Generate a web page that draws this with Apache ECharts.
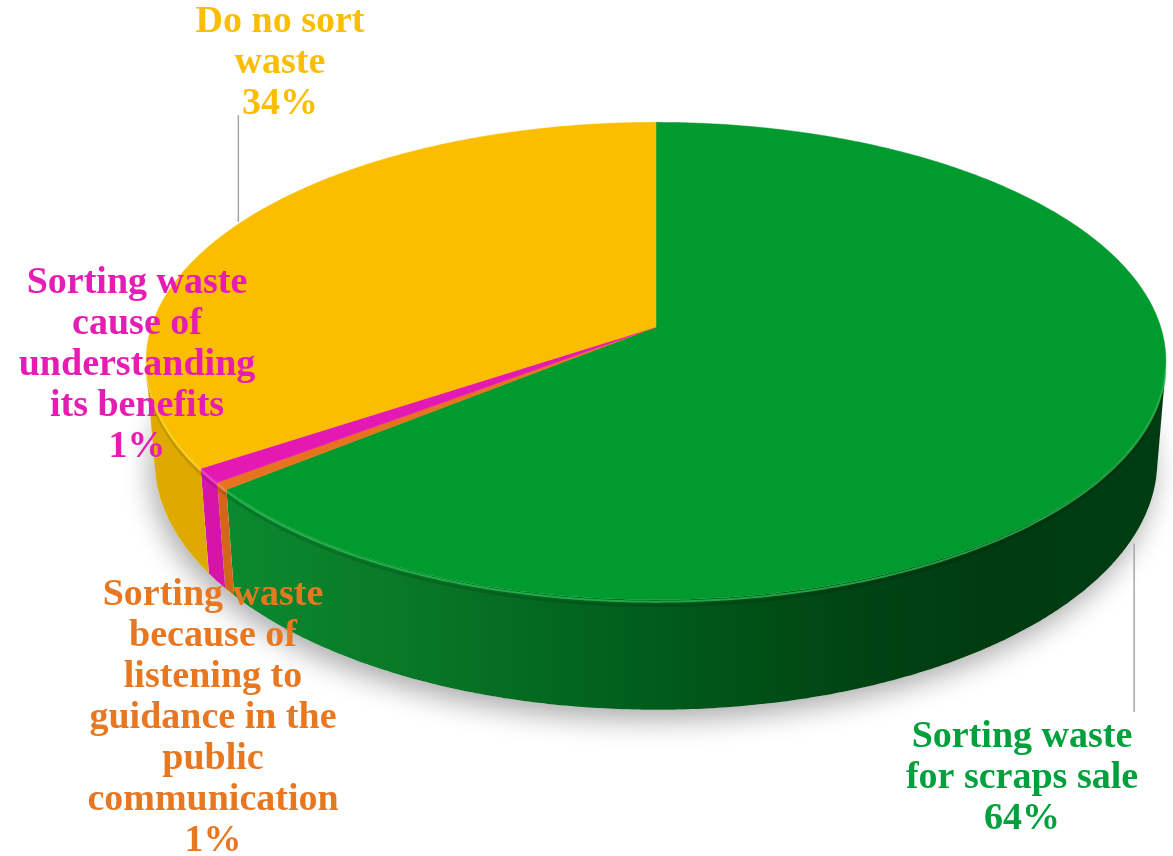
<!DOCTYPE html>
<html><head><meta charset="utf-8">
<script src="https://cdn.jsdelivr.net/npm/echarts@6.0.0/dist/echarts.min.js"></script>
<style>html,body{margin:0;padding:0;background:#fff}#c{width:1173px;height:856px}</style>
</head><body><div id="c"></div>
<script>
// ---- data ----
const categories = [
  'Sorting waste\nfor scraps sale',
  'Sorting waste\nbecause of\nlistening to\nguidance in the\npublic\ncommunication',
  'Sorting waste\ncause of\nunderstanding\nits benefits',
  'Do no sort\nwaste'
];
const values = [64.1, 0.5, 1.0, 34.4];

// ---- styles ----
const topColors = ['#009a2e', '#e8731e', '#e418b2', '#fbbd00'];
const rimColors = ['#2fc257', '#f79a4e', '#f55ad0', '#ffdc2a'];
const sideStops = [
  [[0,'#0a8c30'],[0.19,'#0a7a28'],[0.45,'#005e1c'],[0.67,'#004414'],[0.8,'#003c10'],[1,'#003c12']],
  [[0,'#d4661a'],[1,'#c85e14']],
  [[0,'#d615a8'],[1,'#c8129c']],
  [[0,'#dfaa00'],[1,'#d6a000']]
];
const labelColors = ['#00a03c', '#e87722', '#e61cb5', '#fbbd00'];
const labelLayout = [
  {x: 1022, y: 717, anchor: 115, face: 'bottom', lineEnd: 712},
  {x: 213, y: 575},
  {x: 137, y: 263},
  {x: 280, y: 2, anchor: 298, face: 'top', lineEnd: 115}
];
const P = {cx: 656, cy: 327, f: 3139, d: 6.22, elev: 27.6 * Math.PI / 180, h: 0.2255};

const total = values.reduce((a, b) => a + b, 0);
const starts = [];
let acc = 0;
values.forEach(v => { starts.push(acc / total * 360); acc += v; });
const ends = values.map((v, i) => starts[i] + v / total * 360);

const sE = Math.sin(P.elev), cE = Math.cos(P.elev);
function proj(theta, y) {
  const t = theta * Math.PI / 180;
  const X = Math.sin(t), Z = -Math.cos(t);
  const yc = y * cE - Z * sE;
  const depth = P.d - y * sE - Z * cE;
  return [P.cx + P.f * X / depth, P.cy - P.f * yc / depth];
}
function arc(a, b, y) {
  const pts = [];
  const n = Math.max(2, Math.ceil(Math.abs(b - a) / 0.5));
  for (let k = 0; k <= n; k++) pts.push(proj(a + (b - a) * k / n, y));
  return pts;
}
const visMin = Math.acos(-1 / (P.d * cE)) * 180 / Math.PI;
const visMax = 360 - visMin;

function sideItem(params, api) {
  const i = params.dataIndex;
  const a = Math.max(starts[i], visMin), b = Math.min(ends[i], visMax);
  if (b <= a) return {type: 'group', children: []};
  const pts = arc(a, b, 0).concat(arc(b, a, -P.h));
  return {
    type: 'polygon', shape: {points: pts},
    style: {fill: new echarts.graphic.LinearGradient(200, 0, 1170, 0,
      sideStops[i].map(s => ({offset: s[0], color: s[1]})), true)}
  };
}
function topItem(params, api) {
  const i = params.dataIndex;
  const pts = [[P.cx, P.cy]].concat(arc(starts[i], ends[i], 0));
  const children = [{type: 'polygon', shape: {points: pts}, style: {fill: topColors[i], stroke: topColors[i], lineWidth: 0.5}}];
  const a = Math.max(starts[i], visMin), b = Math.min(ends[i], visMax);
  if (b > a) {
    children.push({type: 'polyline', shape: {points: arc(a, b, -0.012)},
      style: {stroke: 'rgba(0,0,0,0.12)', lineWidth: 3, fill: null}});
    children.push({type: 'polyline', shape: {points: arc(a, b, -0.004)},
      style: {stroke: rimColors[i], lineWidth: 2, fill: null, opacity: 0.75}});
  }
  return {type: 'group', children};
}
function shadowItem() {
  return {type: 'polygon', shape: {points: arc(0, 360, -P.h)},
    style: {fill: '#ffffff', shadowBlur: 28, shadowColor: 'rgba(0,0,0,0.33)', shadowOffsetX: -4, shadowOffsetY: 10}};
}

const graphics = [];
categories.forEach((name, i) => {
  const pct = Math.round(values[i] / total * 100) + '%';
  const L = labelLayout[i];
  graphics.push({type: 'text', z: 100, style: {
    text: name + '\n' + pct, x: L.x, y: L.y, align: 'center', verticalAlign: 'top',
    font: 'bold 38px "Liberation Serif", serif', lineHeight: 41, fill: labelColors[i]}});
  if (L.anchor !== undefined) {
    const p = proj(L.anchor, L.face === 'top' ? 0 : -P.h);
    graphics.push({type: 'line', z: 99, shape: {x1: p[0], y1: p[1] + (L.face === 'top' ? -2 : 8), x2: p[0], y2: L.lineEnd},
      style: {stroke: '#a6a6a6', lineWidth: 1.5}});
  }
});

const chart = echarts.init(document.getElementById('c'), null, {renderer: 'canvas'});
chart.setOption({
  animation: false,
  backgroundColor: '#ffffff',
  series: [
    {type: 'custom', coordinateSystem: 'none', data: [0], renderItem: shadowItem, z: 1, silent: true},
    {type: 'custom', coordinateSystem: 'none', data: values, renderItem: sideItem, z: 2, silent: true},
    {type: 'custom', coordinateSystem: 'none', data: values, renderItem: topItem, z: 3, silent: true}
  ],
  graphic: graphics
});
</script>
</body></html>
